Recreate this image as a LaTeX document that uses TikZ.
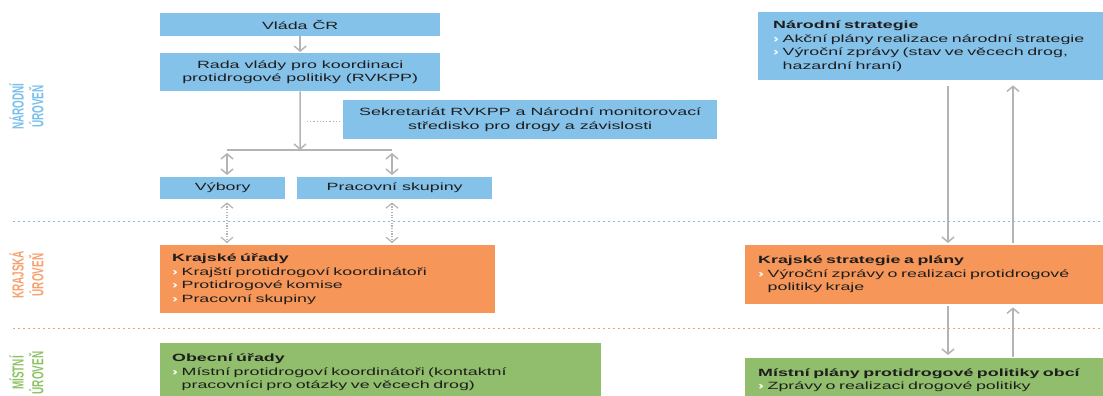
\documentclass[tikz,border=0pt]{standalone}
\usepackage{fontspec}
\setmainfont[FakeStretch=1.7]{Liberation Sans}
\newfontfamily\tierfont{Liberation Sans}
\usetikzlibrary{arrows.meta}
\definecolor{boxblue}{RGB}{133,194,234}
\definecolor{boxorange}{RGB}{247,150,89}
\definecolor{boxgreen}{RGB}{145,190,108}
\definecolor{lvlblue}{RGB}{120,190,235}
\definecolor{lvlorange}{RGB}{247,160,110}
\definecolor{lvlgreen}{RGB}{140,195,100}
\definecolor{arrgray}{RGB}{180,180,180}
\definecolor{textdark}{RGB}{30,30,30}
\newcommand{\itm}{\textcolor{white}{\textbf{›}}\ }
\newcommand{\cont}{\hphantom{\textbf{›}\ }}
\newcommand{\tiername}[2]{\scalebox{0.62}[1]{\tierfont\bfseries\fontsize{16}{18}\selectfont
    \begin{tabular}{@{}c@{}}#1\\#2\end{tabular}}}
\begin{document}
\begin{tikzpicture}[x=1pt,y=-1pt,
    box/.style={fill=boxblue,text=textdark,inner sep=0pt,anchor=north west,
      font=\fontsize{10.5}{13.5}\selectfont,align=center},
    lbox/.style={box,align=left,inner xsep=12pt},
    tier/.style={rotate=90,inner sep=0pt},
    arr/.style={draw=arrgray,line width=1.5pt,-{Straight Barb[length=5pt,width=12pt]}},
    dbl/.style={arr,{Straight Barb[length=5pt,width=12pt]}-{Straight Barb[length=5pt,width=12pt]}},
    dots/.style={draw=arrgray,line width=1pt,dash pattern=on 1.2pt off 2pt},
    sep/.style={line width=0.7pt,dash pattern=on 2pt off 3pt}]
    \clip (0,0) rectangle (1103,396);
    % level labels
    \node[tier,text=lvlblue] (lnar) at (29,106.5) {\tiername{NÁRODNÍ}{ÚROVEŇ}};
    \node[tier,text=lvlorange] (lkraj) at (29,275) {\tiername{KRAJSKÁ}{ÚROVEŇ}};
    \node[tier,text=lvlgreen] (lmist) at (29,373) {\tiername{MÍSTNÍ}{ÚROVEŇ}};
    \draw[sep,draw=lvlblue] (13,221) -- (1103,221);
    \draw[sep,draw=lvlorange] (13,328) -- (1103,328);
    % institutions
    \node[box,minimum width=280pt,minimum height=23pt] (vlada) at (160,13) {Vláda ČR};
    \node[box,minimum width=280pt,minimum height=38pt] (rada) at (160,53)
        {Rada vlády pro koordinaci\\protidrogové politiky (RVKPP)};
    \node[box,minimum width=374pt,minimum height=39pt] (sekr) at (343,100)
        {Sekretariát RVKPP a Národní monitorovací\\středisko pro drogy a závislosti};
    \node[box,minimum width=125pt,minimum height=22pt] (vybory) at (160,177) {Výbory};
    \node[box,minimum width=195pt,minimum height=22pt] (prac) at (297,177) {Pracovní skupiny};
    \node[lbox,fill=boxorange,text width=311pt,minimum height=68pt] (kraj) at (160,245)
        {\textbf{Krajské úřady}\\\itm Krajští protidrogoví koordinátoři\\\itm Protidrogové komise\\\itm Pracovní skupiny};
    \node[lbox,fill=boxgreen,text width=417pt,minimum height=58pt] (obec) at (160,343)
        {\textbf{Obecní úřady}\\\itm Místní protidrogoví koordinátoři (kontaktní\\\cont pracovníci pro otázky ve věcech drog)};
    % documents
    \node[lbox,inner xsep=15pt,text width=350pt,minimum height=68pt] (narstrat) at (758,12)
        {\textbf{Národní strategie}\\\itm Akční plány realizace národní strategie\\\itm Výroční zprávy (stav ve věcech drog,\\\cont hazardní hraní)};
    \node[lbox,inner xsep=13pt,fill=boxorange,text width=350pt,minimum height=59pt] (krajstrat) at (745,245)
        {\textbf{Krajské strategie a plány}\\\itm Výroční zprávy o realizaci protidrogové\\\cont politiky kraje};
    \node[lbox,inner xsep=13pt,fill=boxgreen,text width=350pt,minimum height=44pt] (mistplan) at (745,358)
        {\textbf{Místní plány protidrogové politiky obcí}\\\itm Zprávy o realizaci drogové politiky};
    % connectors
    \coordinate (split) at (300,150);
    \coordinate (jv) at (227,150);
    \coordinate (jp) at (392,150);
    \coordinate (dotA) at (307,121);
    \draw[arr,shorten >=1pt] (vlada) -- (rada);
    \draw[arr] (rada) -- (split);
    \draw[draw=arrgray,line width=1.5pt] (jv) -- (jp);
    \draw[dots,shorten >=3pt] (dotA) -- (dotA -| sekr.west);
    \draw[dbl] ([yshift=-3pt]jv) -- ([yshift=2pt]vybory.north -| jv);
    \draw[dbl] ([yshift=-3pt]jp) -- ([yshift=2pt]prac.north -| jp);
    \draw[dbl,dash pattern=on 1.2pt off 1.5pt,line width=1.2pt] ([yshift=-3pt]vybory.south -| jv) -- ([yshift=2pt]kraj.north -| jv);
    \draw[dbl,dash pattern=on 1.2pt off 1.5pt,line width=1.2pt] ([yshift=-3pt]prac.south -| jp) -- ([yshift=2pt]kraj.north -| jp);
    \coordinate (dn) at (948,0);
    \coordinate (up) at (1013,0);
    \draw[arr] ([yshift=-6pt]narstrat.south -| dn) -- ([yshift=2pt]krajstrat.north -| dn);
    \draw[arr] ([yshift=2pt]krajstrat.north -| up) -- ([yshift=-5pt]narstrat.south -| up);
    \draw[arr] ([yshift=-2pt]krajstrat.south -| dn) -- ([yshift=3pt]mistplan.north -| dn);
    \draw[arr] ([yshift=1pt]mistplan.north -| up) -- ([yshift=-3pt]krajstrat.south -| up);
\end{tikzpicture}
\end{document}
